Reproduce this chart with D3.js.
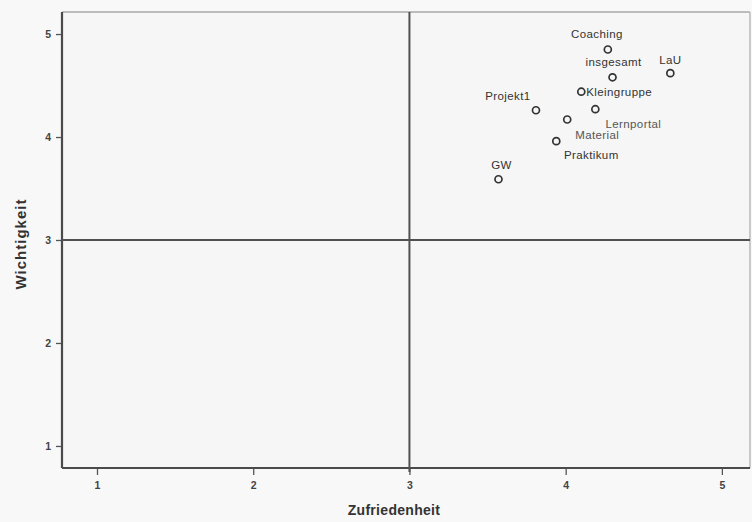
<!DOCTYPE html>
<html>
<head>
<meta charset="utf-8">
<script src="https://cdn.jsdelivr.net/npm/d3@7/dist/d3.min.js"></script>
<style>
  html, body { margin: 0; padding: 0; background: #f8f8f8; }
  svg { display: block; }
  text { font-family: "Liberation Sans", Arial, sans-serif; }
</style>
</head>
<body>
<svg id="chart" width="752" height="522"></svg>
<script>
// Evaluation of course components: satisfaction vs. importance
const components   = ["Coaching", "insgesamt", "LaU", "Kleingruppe", "Projekt1", "Lernportal", "Material", "Praktikum", "GW"];
const satisfaction = [4.27, 4.30, 4.67, 4.10, 3.81, 4.19, 4.01, 3.94, 3.57];
const importance   = [4.85, 4.58, 4.62, 4.44, 4.26, 4.27, 4.17, 3.96, 3.59];
const xTickValues  = [1, 2, 3, 4, 5];
const yTickValues  = [1, 2, 3, 4, 5];
const xTitle = "Zufriedenheit";
const yTitle = "Wichtigkeit";
const midX = 3, midY = 3;

// label placement around each marker (offset of the label centre)
const labelOffset = {
  "Coaching":    { dx: -11, dy: -15, anchor: "middle" },
  "insgesamt":   { dx: 1,   dy: -15, anchor: "middle" },
  "LaU":         { dx: 0,   dy: -13, anchor: "middle" },
  "Kleingruppe": { dx: 5,   dy: 0,   anchor: "start" },
  "Projekt1":    { dx: -28, dy: -14, anchor: "middle" },
  "Lernportal":  { dx: 38,  dy: 15,  anchor: "middle" },
  "Material":    { dx: 30,  dy: 15,  anchor: "middle" },
  "Praktikum":   { dx: 35,  dy: 14,  anchor: "middle" },
  "GW":          { dx: 3,   dy: -14, anchor: "middle" }
};

const points = components.map((name, i) => ({ name, x: satisfaction[i], y: importance[i] }));

const svg = d3.select("#chart");
const frame = { left: 62, right: 750, top: 12, bottom: 468 };

const x = d3.scaleLinear().domain([0.776, 5.18]).range([frame.left, frame.right]);
const y = d3.scaleLinear().domain([0.786, 5.214]).range([frame.bottom, frame.top]);

// plot area
svg.append("rect")
  .attr("x", frame.left).attr("y", frame.top)
  .attr("width", frame.right - frame.left).attr("height", frame.bottom - frame.top)
  .attr("fill", "#f6f6f6");

// axes
const xAxis = svg.append("g")
  .attr("transform", `translate(0,${frame.bottom})`)
  .call(d3.axisBottom(x).tickValues(xTickValues).tickSize(7).tickPadding(7).tickFormat(d3.format("d")));
const yAxis = svg.append("g")
  .attr("transform", `translate(${frame.left},0)`)
  .call(d3.axisLeft(y).tickValues(yTickValues).tickSize(6).tickPadding(5).tickFormat(d3.format("d")));

[xAxis, yAxis].forEach(g => {
  g.select(".domain").remove();
  g.selectAll(".tick line").attr("stroke", "#555").attr("stroke-width", 1.3);
  g.selectAll(".tick text")
    .attr("fill", "#444")
    .style("font-size", "10.5px")
    .style("font-weight", "bold");
});

// frame
svg.append("line")
  .attr("x1", frame.left).attr("x2", frame.right)
  .attr("y1", frame.top).attr("y2", frame.top)
  .attr("stroke", "#a8a8a8").attr("stroke-width", 1.3);
svg.append("line")
  .attr("x1", frame.right).attr("x2", frame.right)
  .attr("y1", frame.top).attr("y2", frame.bottom)
  .attr("stroke", "#b0b0b0").attr("stroke-width", 1.3);
svg.append("line")
  .attr("x1", frame.left).attr("x2", frame.left)
  .attr("y1", frame.top).attr("y2", frame.bottom)
  .attr("stroke", "#4a4a4a").attr("stroke-width", 2.2);
svg.append("line")
  .attr("x1", frame.left).attr("x2", frame.right)
  .attr("y1", frame.bottom).attr("y2", frame.bottom)
  .attr("stroke", "#4a4a4a").attr("stroke-width", 2);

// reference lines at the scale midpoint
svg.append("line")
  .attr("x1", x(midX)).attr("x2", x(midX))
  .attr("y1", frame.top).attr("y2", frame.bottom + 4)
  .attr("stroke", "#505050").attr("stroke-width", 2);
svg.append("line")
  .attr("x1", frame.left).attr("x2", frame.right)
  .attr("y1", y(midY)).attr("y2", y(midY))
  .attr("stroke", "#505050").attr("stroke-width", 2);

// markers
svg.append("g").selectAll("circle")
  .data(points)
  .join("circle")
  .attr("cx", d => x(d.x))
  .attr("cy", d => y(d.y))
  .attr("r", 3.5)
  .attr("fill", "none")
  .attr("stroke", "#333")
  .attr("stroke-width", 1.7);

// marker labels
svg.append("g").selectAll("text")
  .data(points)
  .join("text")
  .attr("x", d => x(d.x) + labelOffset[d.name].dx)
  .attr("y", d => y(d.y) + labelOffset[d.name].dy)
  .attr("text-anchor", d => labelOffset[d.name].anchor)
  .attr("dominant-baseline", "central")
  .attr("fill", d => (d.name === "Material" || d.name === "Lernportal") ? "#555" : "#333")
  .style("font-size", "11.5px")
  .style("letter-spacing", "0.4px")
  .text(d => d.name);

// axis titles
svg.append("text")
  .attr("x", 394).attr("y", 510)
  .attr("text-anchor", "middle")
  .attr("dominant-baseline", "central")
  .attr("fill", "#333")
  .style("font-size", "14px")
  .style("letter-spacing", "0.3px")
  .style("font-weight", "bold")
  .text(xTitle);

svg.append("text")
  .attr("transform", "translate(20,244) rotate(-90)")
  .attr("text-anchor", "middle")
  .attr("dominant-baseline", "central")
  .attr("fill", "#333")
  .style("font-size", "15px")
  .style("letter-spacing", "1px")
  .style("font-weight", "bold")
  .text(yTitle);
</script>
</body>
</html>
